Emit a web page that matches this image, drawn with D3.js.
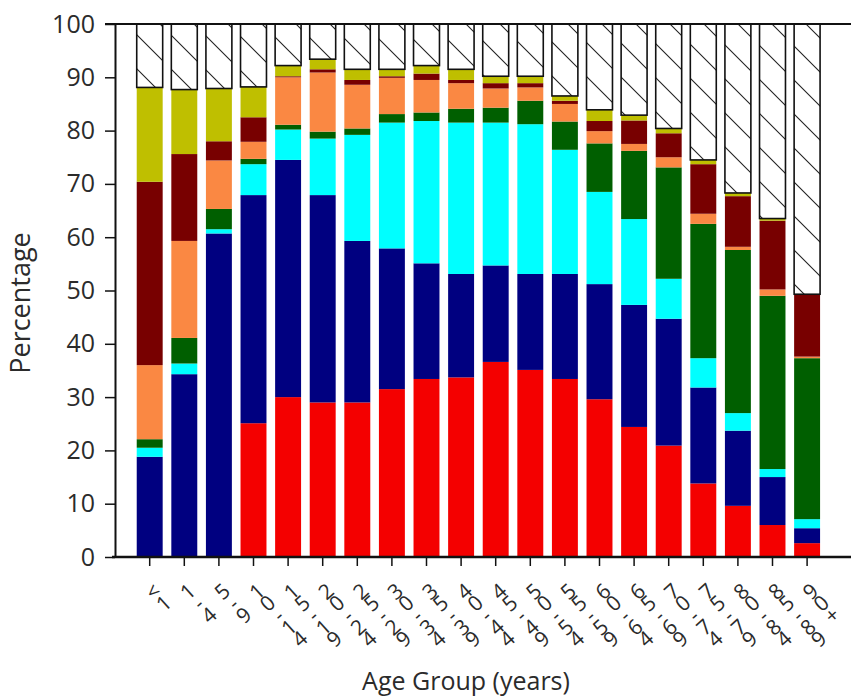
<!DOCTYPE html>
<html>
<head>
<meta charset="utf-8">
<script src="https://cdn.jsdelivr.net/npm/d3@7"></script>
<style>
  body { margin: 0; background: #fff; }
  text { font-family: "Open Sans", sans-serif; fill: #2b2b2b; }
</style>
</head>
<body>
<svg id="chart" width="851" height="700"></svg>
<script>
// Age groups along the x axis
const ageGroups = ["<1", "1-4", "5-9", "10-14", "15-19", "20-24", "25-29", "30-34",
  "35-39", "40-44", "45-49", "50-54", "55-59", "60-64", "65-69", "70-74",
  "75-79", "80-84", "85-89", "90+"];

// Percentages per segment, bottom to top
const redPct    = [0, 0, 0, 25.1, 30.0, 29.0, 29.0, 31.5, 33.4, 33.7, 36.6, 35.1, 33.4, 29.6, 24.4, 20.9, 13.8, 9.6, 6.0, 2.6];
const navyPct   = [18.8, 34.3, 60.7, 42.8, 44.5, 38.9, 30.3, 26.4, 21.7, 19.4, 18.1, 18.0, 19.7, 21.6, 22.9, 23.8, 18.0, 14.1, 9.0, 2.8];
const cyanPct   = [1.7, 2.0, 0.8, 5.8, 5.7, 10.6, 19.9, 23.6, 26.7, 28.4, 26.8, 28.1, 23.3, 17.3, 16.1, 7.5, 5.5, 3.3, 1.5, 1.7];
const greenPct  = [1.6, 4.8, 3.8, 1.0, 0.9, 1.3, 1.2, 1.6, 1.6, 2.6, 2.8, 4.4, 5.3, 9.1, 12.8, 20.9, 25.2, 30.6, 32.5, 30.2];
const orangePct = [13.9, 18.2, 9.1, 3.2, 8.9, 11.1, 8.2, 6.8, 6.1, 4.8, 3.6, 2.5, 3.3, 2.3, 1.3, 1.9, 1.9, 0.6, 1.2, 0.3];
const maroonPct = [34.4, 16.3, 3.6, 4.6, 0.2, 0.6, 0.9, 0.3, 1.2, 0.6, 1.0, 0.8, 0.6, 1.9, 4.4, 4.5, 9.3, 9.5, 12.9, 11.7];
const olivePct  = [17.7, 12.1, 9.9, 5.7, 2.0, 1.9, 2.0, 1.3, 1.5, 2.0, 1.3, 1.3, 0.9, 2.1, 1.0, 0.9, 0.8, 0.6, 0.4, 0.0];
const otherPct  = [11.9, 12.3, 12.1, 11.8, 7.8, 6.6, 8.5, 8.5, 7.8, 8.5, 9.8, 9.8, 13.5, 16.1, 17.1, 19.6, 25.5, 31.7, 36.5, 50.7];

const yTicks = [0, 10, 20, 30, 40, 50, 60, 70, 80, 90, 100];

const keys = ["red", "navy", "cyan", "green", "orange", "maroon", "olive", "other"];
const colors = {
  red: "#f40000",
  navy: "#000080",
  cyan: "#00ffff",
  green: "#005f00",
  orange: "#fa8843",
  maroon: "#780000",
  olive: "#bfbf00",
  other: "url(#hatch)"
};

const width = 851;
const height = 700;
const plotLeft = 115;
const plotTop = 24;
const plotBottom = 557;

// build rows for d3.stack
const rows = ageGroups.map(function(g, i) {
  return {
    group: g,
    red: redPct[i], navy: navyPct[i], cyan: cyanPct[i], green: greenPct[i],
    orange: orangePct[i], maroon: maroonPct[i], olive: olivePct[i], other: otherPct[i]
  };
});

const svg = d3.select("#chart");

const defs = svg.append("defs");
const hatch = defs.append("pattern")
  .attr("id", "hatch")
  .attr("patternUnits", "userSpaceOnUse")
  .attr("width", 34)
  .attr("height", 34);
hatch.append("rect").attr("width", 34).attr("height", 34).attr("fill", "#fff");
hatch.append("path")
  .attr("d", "M0,0L34,34M-17,17L17,51M17,-17L51,17")
  .attr("stroke", "#222")
  .attr("stroke-width", 1.1);

const x = d3.scaleBand()
  .domain(ageGroups)
  .range([132.4, 824.4])
  .paddingInner(0.25)
  .paddingOuter(0.125);

const y = d3.scaleLinear()
  .domain([0, 100])
  .range([plotBottom, plotTop]);

const series = d3.stack().keys(keys)(rows);

// bars
const layer = svg.append("g").selectAll("g")
  .data(series)
  .join("g")
  .attr("fill", function(d) { return colors[d.key]; });

layer.selectAll("rect")
  .data(function(d) { return d.map(function(v) { v.key = d.key; return v; }); })
  .join("rect")
  .attr("x", function(d) { return x(d.data.group); })
  .attr("y", function(d) { return y(d[1]); })
  .attr("width", x.bandwidth())
  .attr("height", function(d) { return Math.max(0, y(d[0]) - y(d[1])); })
  .attr("stroke", function(d) { return d.key === "other" ? "#111" : "none"; })
  .attr("stroke-width", 1.6);

// top border
svg.append("line")
  .attr("x1", plotLeft - 10).attr("x2", width)
  .attr("y1", plotTop).attr("y2", plotTop)
  .attr("stroke", "#111").attr("stroke-width", 2.2);

// y axis
const yAxis = svg.append("g")
  .attr("transform", "translate(" + plotLeft + ",0)")
  .call(d3.axisLeft(y).tickValues(yTicks).tickSize(10).tickSizeOuter(0).tickPadding(10));
yAxis.select(".domain").attr("stroke", "#111").attr("stroke-width", 2);
yAxis.selectAll(".tick line").attr("stroke", "#111").attr("stroke-width", 1.5);
yAxis.selectAll(".tick text")
  .attr("font-family", "Open Sans, sans-serif")
  .attr("font-size", 25)
  .attr("fill", "#2b2b2b");

// x axis
const xAxis = svg.append("g")
  .attr("transform", "translate(0," + plotBottom + ")")
  .call(d3.axisBottom(x).tickSize(9).tickSizeOuter(0).tickFormat(""));
xAxis.select(".domain").remove();
xAxis.selectAll(".tick line").attr("stroke", "#111").attr("stroke-width", 1.5);
svg.append("line")
  .attr("x1", plotLeft - 3).attr("x2", width)
  .attr("y1", plotBottom).attr("y2", plotBottom)
  .attr("stroke", "#111").attr("stroke-width", 2.5);

// stacked, tilted tick labels (one glyph under the other)
const labelGroups = svg.append("g").selectAll("g")
  .data(ageGroups)
  .join("g")
  .attr("transform", function(d) {
    return "translate(" + (x(d) + x.bandwidth() / 2 + 3) + ",591) rotate(-42)";
  });
labelGroups.selectAll("text")
  .data(function(d) { return d.split(""); })
  .join("text")
  .attr("x", 0)
  .attr("y", function(c, i) { return i * 16; })
  .attr("text-anchor", "middle")
  .attr("dominant-baseline", "central")
  .attr("font-size", 21)
  .text(function(c) { return c; });

// axis titles
svg.append("text")
  .attr("transform", "translate(30,303) rotate(-90)")
  .attr("text-anchor", "middle")
  .attr("font-size", 27)
  .text("Percentage");

svg.append("text")
  .attr("x", 466)
  .attr("y", 690)
  .attr("text-anchor", "middle")
  .attr("font-size", 25)
  .text("Age Group (years)");
</script>
</body>
</html>
